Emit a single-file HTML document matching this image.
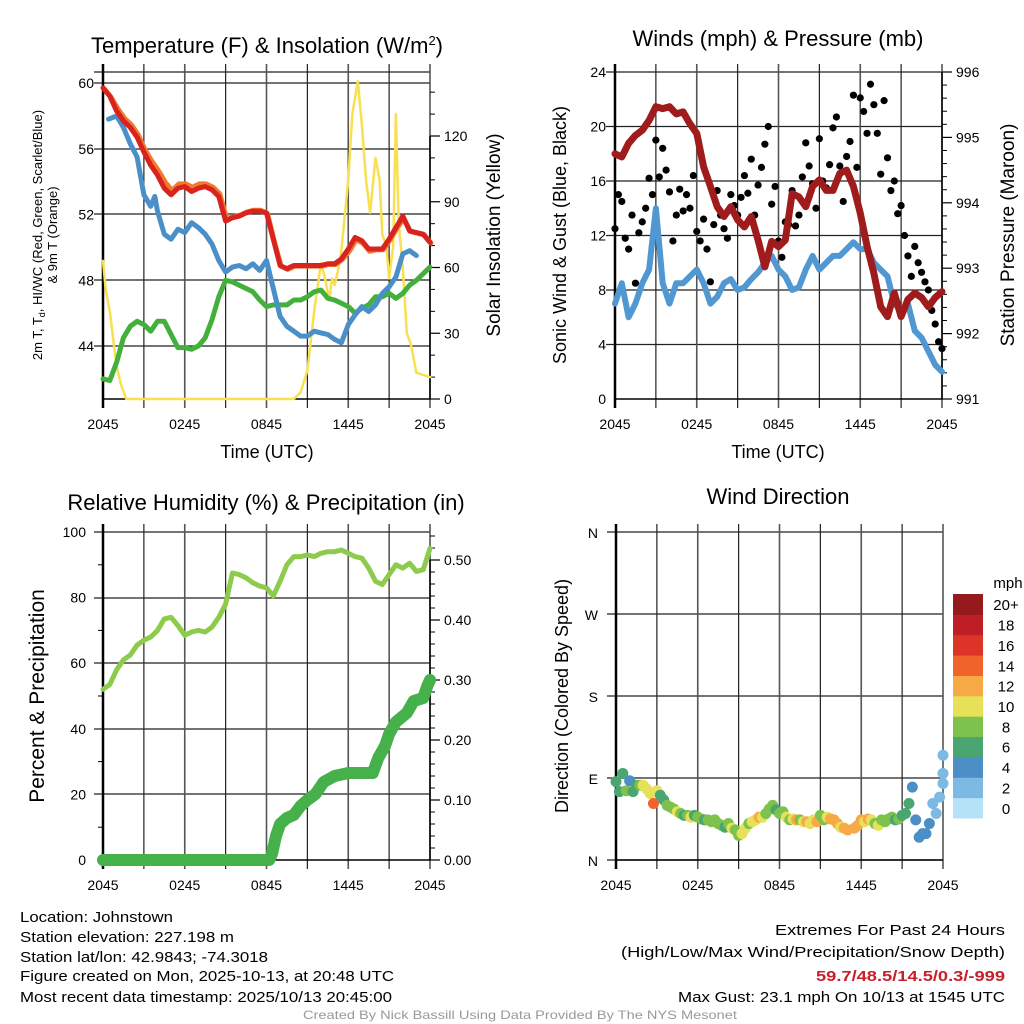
<!DOCTYPE html>
<html><head><meta charset="utf-8">
<style>
html,body{margin:0;padding:0;background:#fff;}
svg{display:block;font-family:"Liberation Sans",sans-serif;}
</style></head>
<body>
<svg id="fig" width="1024" height="1024" viewBox="0 0 1024 1024" xmlns="http://www.w3.org/2000/svg">
<g id="g-temp"></g>
<g id="g-wind"></g>
<g id="g-rh"></g>
<g id="g-dir"></g>
<g font-size="15" fill="#000">
<text x="20" y="922" textLength="153" lengthAdjust="spacingAndGlyphs">Location: Johnstown</text>
<text x="20" y="942" textLength="214" lengthAdjust="spacingAndGlyphs">Station elevation: 227.198 m</text>
<text x="20" y="962" textLength="248" lengthAdjust="spacingAndGlyphs">Station lat/lon: 42.9843; -74.3018</text>
<text x="20" y="981" textLength="374" lengthAdjust="spacingAndGlyphs">Figure created on Mon, 2025-10-13, at 20:48 UTC</text>
<text x="20" y="1002" textLength="372" lengthAdjust="spacingAndGlyphs">Most recent data timestamp: 2025/10/13 20:45:00</text>
</g>
<g font-size="15" fill="#000">
<text x="775" y="935" textLength="230" lengthAdjust="spacingAndGlyphs">Extremes For Past 24 Hours</text>
<text x="621" y="957" textLength="384" lengthAdjust="spacingAndGlyphs">(High/Low/Max Wind/Precipitation/Snow Depth)</text>
<text x="816" y="981" textLength="189" lengthAdjust="spacingAndGlyphs" fill="#c8202a" font-weight="bold">59.7/48.5/14.5/0.3/-999</text>
<text x="678" y="1002" textLength="327" lengthAdjust="spacingAndGlyphs">Max Gust: 23.1 mph On 10/13 at 1545 UTC</text>
</g>
<text x="303" y="1019" font-size="12" fill="#999" textLength="434" lengthAdjust="spacingAndGlyphs">Created By Nick Bassill Using Data Provided By The NYS Mesonet</text>
</svg>
<script>
// ---------- data ----------
const hTimes = [0,0.5,1,1.5,2,2.5,3,3.5,4,4.5,5,5.5,6,6.5,7,7.5,8,8.5,9,9.5,10,10.5,11,11.5,12,12.5,13,13.5,14,14.5,15,15.5,16,16.5,17,17.5,18,18.5,19,19.5,20,20.5,21,21.5,22,22.5,23,23.5,24];
const tempRed = [59.7,59.2,58.3,57.7,57.3,56.7,55.8,55.0,54.4,53.6,53.2,53.6,53.7,53.4,53.6,53.7,53.5,53.1,51.6,51.8,51.9,52.1,52.2,52.2,52.1,50.5,48.9,48.7,48.9,48.9,48.9,48.9,48.9,49.0,49.0,49.3,49.9,50.6,50.4,49.9,49.9,49.9,50.5,51.2,51.9,51.0,50.9,50.8,50.3];
const tempOrange = [59.6,59.1,58.4,57.8,57.4,56.8,55.9,55.2,54.6,53.9,53.4,53.8,53.8,53.6,53.8,53.8,53.6,53.2,51.7,51.8,51.9,52.1,52.2,52.2,52.0,50.3,48.8,48.6,48.8,48.8,48.8,48.8,48.8,48.9,48.9,49.2,49.7,50.4,50.2,49.7,49.8,49.8,50.4,51.1,51.7,50.9,50.8,50.7,50.2];
const wcTimes = [0.4,1,1.5,2,2.5,3,3.5,3.8,4,4.5,5,5.5,6,6.5,7,7.5,8,8.5,9,9.5,10,10.5,11,11.5,12,12.5,13,13.5,14,14.5,15,15.5,16,16.5,17,17.5,18,18.5,19,19.5,20,20.5,21,21.5,22,22.5,23];
const wcBlue = [57.8,58.0,57.3,56.3,55.5,53.2,52.5,53.1,52.2,50.8,50.5,51.1,50.9,51.5,51.2,50.8,50.2,49.2,48.5,48.8,48.9,48.7,49.0,48.6,49.2,47.5,45.8,45.2,44.9,44.6,44.6,44.9,44.8,44.7,44.4,44.2,45.3,45.9,46.4,46.1,46.5,47.2,47.6,48.2,49.6,49.8,49.5];
const dewGreen = [42.0,41.9,43.0,44.5,45.2,45.5,45.3,44.9,45.5,45.5,44.7,43.9,43.9,43.8,44.0,44.5,45.6,47.0,48.0,47.9,47.7,47.5,47.3,46.8,46.4,46.5,46.5,46.5,46.8,46.8,47.0,47.3,47.4,46.9,46.8,46.6,46.4,46.0,46.3,46.5,47.0,47.0,47.2,46.9,47.2,47.7,48.0,48.4,48.8];
const solarTimes = [0,0.2,0.5,0.7,1,1.3,1.7,14,14.5,15,15.5,16,16.3,16.6,16.8,17,17.3,17.5,18,18.3,18.7,19,19.3,19.6,20,20.3,20.5,20.8,21,21.3,21.5,21.7,22,22.3,22.6,23,23.5,24];
const solarVals = [63,50,40,30,15,7,0,0,3,13,40,62,55,45,55,52,60,68,100,130,145,125,100,85,110,100,75,70,55,70,130,80,60,30,25,12,11,10];
const windBlue = [7,8.5,6,7,8.5,9.5,14,8.5,7,8.5,8.5,9,9.5,8.5,7,7.5,8.5,8.8,8.0,8.2,8.8,9.3,10,10.5,9.5,9,8,8.2,9.5,10.5,9.5,10,10.5,10.5,11,11.5,11,11,10,9.5,9,7,6.5,7,5,4.5,3.5,2.5,2];
const pressure = [994.75,994.70,994.91,995.03,995.11,995.26,995.47,995.44,995.47,995.36,995.39,995.21,995.06,994.55,994.25,993.94,993.79,993.94,993.74,993.63,993.79,993.43,993.02,993.41,993.33,993.43,994.14,994.09,993.94,994.25,994.35,994.19,994.19,994.45,994.50,994.25,993.84,993.33,992.92,992.41,992.26,992.62,992.26,992.52,992.62,992.55,992.41,992.55,992.64];
const gusts = [12.5,15,14.5,11.8,11,13.5,8.5,12.2,13,14,16.2,15,19,16.3,18.4,16.8,15.2,11.6,13.5,15.4,13.8,15,14,16.4,12.3,11.6,13.2,11,8.6,12.8,15.3,13.5,12.5,11.8,15,14.2,13.5,14.8,16.4,15.1,17.6,13.5,15.7,17,18.7,20,14.3,15.6,11.6,10.4,13,12.8,15.3,12.7,13.5,16.3,18.8,17.1,15.8,14,19.1,16,15.5,17.2,19.9,20.7,17.1,14.5,17.8,18.9,22.3,17,22.1,21.1,19.5,23.1,21.6,19.5,16.5,21.9,17.7,15.3,16,13.6,14.2,12,10.5,9,11.2,10,9.3,8.6,8,6.5,5.5,4.2,3.7];
const rhVals = [52,53.5,58,61,62.5,65.5,67,68,70,73.5,74,71.5,68.5,69.5,70,69.5,71,74,78,87.5,87,86,84.5,83.5,83,80.5,85,90,92.5,92.5,93,92.5,93.5,94,94,94.5,93.5,92.5,92,89,85,84,87,90,89,90.5,88,88.5,95];
const precipTimes = [0,12.2,12.4,12.7,13,13.5,14,14.5,15,15.6,16.2,17,18,19.8,20.2,20.7,21,21.5,22.3,22.8,23.5,23.8,24];
const precipVals = [0,0,0.01,0.04,0.06,0.07,0.075,0.09,0.10,0.11,0.13,0.14,0.145,0.145,0.17,0.19,0.21,0.23,0.245,0.265,0.27,0.29,0.30];
const dirTimes = [0,0.25,0.5,0.75,1,1.25,1.5,1.75,2,2.25,2.5,2.75,3,3.25,3.5,3.75,4,4.25,4.5,4.75,5,5.25,5.5,5.75,6,6.25,6.5,6.75,7,7.25,7.5,7.75,8,8.25,8.5,8.75,9,9.25,9.5,9.75,10,10.25,10.5,10.75,11,11.25,11.5,11.75,12,12.25,12.5,12.75,13,13.25,13.5,13.75,14,14.25,14.5,14.75,15,15.25,15.5,15.75,16,16.25,16.5,16.75,17,17.5,17.75,18,18.25,18.5,18.75,19,19.25,19.5,19.75,20,20.25,20.5,20.75,21,21.25,21.5,21.75,22,22.25,22.5,22.75,23,23.25,23.5,23.75,24,24,24];
const dirDeg = [86,75,95,76,87,75,82,82,82,78,73,62,76,71,66,60,58,56,53,51,49,49,47,49,47,45,44,44,42,44,40,38,36,40,35,33,27,29,35,40,42,44,47,47,51,56,60,55,51,53,47,44,45,44,44,42,42,40,44,42,49,44,47,45,44,40,36,35,33,35,38,44,42,45,44,40,38,44,42,45,47,44,45,49,51,62,80,44,25,29,29,40,62,51,69,84,95,115];
const dirSpeed = [6,7,6,8,4,7,6,8,10,10,10,14,10,7,6,8,8,8,10,8,7,8,10,6,8,8,7,8,8,9,8,8,6,8,10,8,8,10,10,9,11,10,12,10,8,8,8,7,8,8,10,8,10,12,8,10,12,10,10,12,8,8,10,12,12,12,10,12,12,12,12,12,10,12,10,8,10,8,8,8,8,6,8,6,6,6,4,4,4,4,4,4,2,2,2,3,2,2];
const cbLabels = ["0","2","4","6","8","10","12","14","16","18","20+"];
const cbColors = ["#b5e2f7","#7cb9e3","#4b8fc6","#4aa570","#7cc24c","#e6e159","#f6a945","#f0642c","#dc3528","#be1e25","#941a1d"];
const timeLabels = ["2045","0245","0845","1445","2045"];

// ---------- helpers ----------
const NS="http://www.w3.org/2000/svg";
function mk(parent,tag,attrs,text){const e=document.createElementNS(NS,tag);for(const k in attrs)e.setAttribute(k,attrs[k]);if(text!==undefined)e.textContent=text;parent.appendChild(e);return e;}
function lin(d0,d1,r0,r1){return v=>r0+(v-d0)*(r1-r0)/(d1-d0);}
const X0=103,X1=430;
function frame(g,x0,x1,yTop,yBot,gridYs){
  gridYs.forEach(y=>{const l=mk(g,'line',{x1:x0-9,x2:x1,y1:y,y2:y,stroke:'#222','stroke-width':1.2});
    
    });
  for(let i=0;i<=8;i++){const x=x0+(x1-x0)*i/8;const l=mk(g,'line',{x1:x,x2:x,y1:yTop-8,y2:yBot+9,stroke:i%2?'#222':'#555','stroke-width':i%2?1.2:1.6});
    
    }
  const fl=mk(g,'line',{x1:x0,x2:x0,y1:yTop-8,y2:yBot+9,stroke:'#000','stroke-width':2.5});
  
  
  const bl=mk(g,'line',{x1:x0,x2:x1,y1:yBot,y2:yBot,stroke:'#000','stroke-width':1.5});
  
  
  timeLabels.forEach((t,i)=>{const tx=mk(g,'text',{x:x0+(x1-x0)*i/4,y:yBot+30,'font-size':14,'text-anchor':'middle'},t);
    
    });
}
function pathD(xs,ys,fx,fy){return xs.map((t,i)=>(i?'L':'M')+fx(t).toFixed(1)+','+fy(ys[i]).toFixed(1)).join('');}
function line(g,xs,ys,fx,fy,color,w,name){const p=mk(g,'path',{d:pathD(xs,ys,fx,fy),fill:'none',stroke:color,'stroke-width':w,'stroke-linejoin':'round','stroke-linecap':'round'});
  
  return p;}
function rightTicks(g,x,vals,fy,labels,minorVals){
  minorVals.forEach(v=>{mk(g,'line',{x1:x,x2:x+5,y1:fy(v),y2:fy(v),stroke:'#000','stroke-width':1});});
  vals.forEach((v,i)=>{mk(g,'line',{x1:x,x2:x+10,y1:fy(v),y2:fy(v),stroke:'#000','stroke-width':1.2});
    const t=mk(g,'text',{x:x+14,y:fy(v)+5,'font-size':14},labels[i]);
    
    });
  mk(g,'line',{x1:x,x2:x,y1:fy(vals[0]),y2:fy(vals[vals.length-1]),stroke:'#000','stroke-width':1.5});
}
function leftLabels(g,x,vals,fy,labels){vals.forEach((v,i)=>{const t=mk(g,'text',{x:x,y:fy(v)+5,'font-size':14,'text-anchor':'end'},labels[i]);
  
  });}
function title(g,x,y,txt,size,name){const t=mk(g,'text',{x:x,y:y,'font-size':size,'text-anchor':'middle'});t.innerHTML=txt;
  
  return t;}
function vtitle(g,x,y,txt,size,name){const t=mk(g,'text',{x:0,y:0,'font-size':size,'text-anchor':'middle',transform:`translate(${x},${y}) rotate(-90)`});t.innerHTML=txt;
  
  return t;}
const fx=lin(0,24,X0,X1);

// ---------- Temperature ----------
(function(){
 const g=document.getElementById('g-temp');
 const fy=lin(44,60,346,83), fs=lin(0,120,399,136);
 frame(g,X0,X1,72,399,[72,83,149,214,280,346]);
 leftLabels(g,94,[44,48,52,56,60],fy,['44','48','52','56','60']);
 rightTicks(g,X1,[0,30,60,90,120],fs,['0','30','60','90','120'],[10,20,40,50,70,80,100,110,130,140]);
 line(g,solarTimes,solarVals,fx,fs,'#f8e050',2.5,'solar-insolation-line');
 line(g,hTimes,dewGreen,fx,fy,'#44b03c',5,'dewpoint-line');
 line(g,wcTimes,wcBlue,fx,fy,'#4a8fc8',5,'wind-chill-line');
 line(g,hTimes,tempOrange,x=>fx(x)+1,y=>fy(y)-1,'#f3792c',5,'temp-9m-line');
 line(g,hTimes,tempRed,fx,fy,'#d8231f',5,'temp-2m-line');
 title(g,267,53,'Temperature (F) &amp; Insolation (W/m<tspan dy="-8" font-size="13">2</tspan><tspan dy="8">)</tspan>',22,'temperature-title');
 title(g,267,458,'Time (UTC)',18,'x-axis-title');
 vtitle(g,42,235,'2m T, T<tspan dy="3" font-size="9">d</tspan><tspan dy="-3">, HI/WC (Red, Green, Scarlet/Blue)</tspan>',13,'y-axis-title-left');
 vtitle(g,57,235,'&amp; 9m T (Orange)',13,'y-axis-title-left-2');
 vtitle(g,500,235,'Solar Insolation (Yellow)',19,'y-axis-title-right');
})();

// ---------- Wind ----------
(function(){
 const g=document.getElementById('g-wind');
 const ox=512, fxw=t=>fx(t)+ox;
 const fy=lin(0,24,399,72), fp=lin(991,996,399,72);
 const gy=[4,8,12,16,20,24].map(fy);
 (function(){
  const gg=mk(g,'g',{transform:`translate(${ox},0)`});
  frame(gg,X0,X1,72,399,gy);
  leftLabels(gg,94,[0,4,8,12,16,20,24],fy,['0','4','8','12','16','20','24']);
  const minors=[];for(let v=991.2;v<996;v+=0.2){if(Math.abs(v-Math.round(v))>0.05)minors.push(v);}
  rightTicks(gg,X1,[991,992,993,994,995,996],fp,['991','992','993','994','995','996'],minors);
 })();
 line(g,hTimes,windBlue,fxw,fy,'#5197d2',6,'sonic-wind-line');
 gusts.forEach((v,i)=>{const c=mk(g,'circle',{cx:fxw(i*0.25),cy:fy(v),r:3.6,fill:'#000'});
   
   });
 line(g,hTimes,pressure,fxw,fp,'#a01c1c',7,'pressure-line');
 title(g,778,46,'Winds (mph) &amp; Pressure (mb)',22,'winds-title');
 title(g,778,458,'Time (UTC)',18,'x-axis-title-wind');
 vtitle(g,566,235,'Sonic Wind &amp; Gust (Blue, Black)',18,'y-axis-title-wind');
 vtitle(g,1014,235,'Station Pressure (Maroon)',19,'y-axis-title-pressure');
})();

// ---------- RH / Precip ----------
(function(){
 const g=document.getElementById('g-rh');
 const fy=lin(0,100,860,532), fpr=lin(0,0.5,860,560);
 frame(g,X0,X1,532,860,[532,598,663,729,794]);
 const mn=[10,30,50,70,90].map(v=>fy(v));
 mn.forEach(y=>mk(g,'line',{x1:X0-5,x2:X0,y1:y,y2:y,stroke:'#000'}));
 leftLabels(g,86,[0,20,40,60,80,100],fy,['0','20','40','60','80','100']);
 const minors=[];for(let v=0.02;v<0.55;v+=0.02){if(Math.abs(v*10-Math.round(v*10))>0.05)minors.push(v);}
 rightTicks(g,X1,[0,0.1,0.2,0.3,0.4,0.5],fpr,['0.00','0.10','0.20','0.30','0.40','0.50'],minors);
 line(g,hTimes,rhVals,fx,fy,'#8ccb4c',5,'relative-humidity-line');
 line(g,precipTimes,precipVals,fx,fpr,'#46b04a',12,'precipitation-line');
 title(g,266,510,'Relative Humidity (%) &amp; Precipitation (in)',22,'humidity-title');
 vtitle(g,44,696,'Percent &amp; Precipitation',21,'y-axis-title-humidity');
})();

// ---------- Wind direction ----------
(function(){
 const g=document.getElementById('g-dir');
 const ox=513, fxd=t=>fx(t)+ox;
 const fy=lin(0,360,860,532);
 const gg=mk(g,'g',{transform:`translate(${ox},0)`});
 frame(gg,X0,X1,532,860,[0,90,180,270,360].map(fy));
 ['N','E','S','W','N'].forEach((l,i)=>{const t=mk(gg,'text',{x:85,y:fy(i*90)+6,'font-size':14,'text-anchor':'end'},l);
   
   });
 dirTimes.forEach((t,i)=>{const bin=Math.min(10,Math.floor(dirSpeed[i]/2));
   const c=mk(g,'circle',{cx:fxd(t),cy:fy(dirDeg[i]),r:5.5,fill:cbColors[bin]});
   
   });
 const bh=(818-594)/cbLabels.length;
 cbLabels.forEach((l,i)=>{const y=818-(i+1)*bh;
   const r=mk(g,'rect',{x:953,y:y,width:30,height:bh+0.5,fill:cbColors[i]});
   
   
   const t=mk(g,'text',{x:1006,y:y+bh/2+6,'font-size':15,'text-anchor':'middle'},l);
   
   });
 const u=mk(g,'text',{x:1008,y:588,'font-size':15,'text-anchor':'middle'},'mph');
 
 
 title(g,778,504,'Wind Direction',22,'wind-direction-title');
 vtitle(g,568,696,'Direction (Colored By Speed)',18,'y-axis-title-direction');
})();
</script>
</body></html>
